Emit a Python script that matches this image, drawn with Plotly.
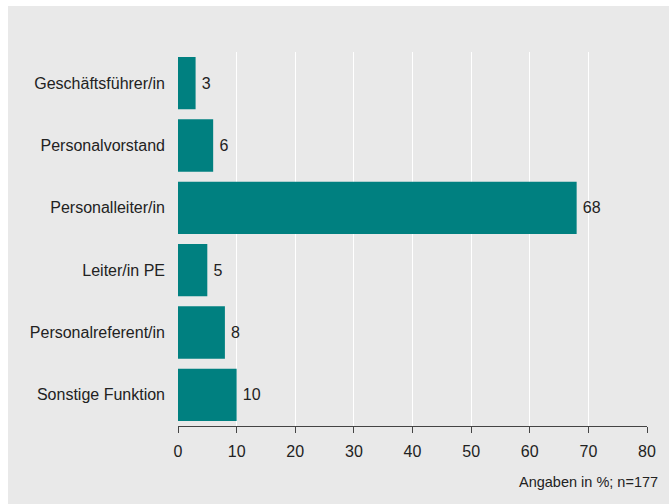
import plotly.graph_objects as go

# Funktion der Befragten (Angaben in %)
categories = [
    "Geschäftsführer/in",
    "Personalvorstand",
    "Personalleiter/in",
    "Leiter/in PE",
    "Personalreferent/in",
    "Sonstige Funktion",
]
values = [3, 6, 68, 5, 8, 10]
x_ticks = [0, 10, 20, 30, 40, 50, 60, 70, 80]

FONT = "Liberation Sans, Arial, Helvetica, sans-serif"
TEXT = "#222222"
BAR = "#008080"
PANEL = "#e9e9e9"

fig = go.Figure(
    go.Bar(
        x=values,
        y=categories,
        orientation="h",
        marker=dict(color=BAR, line=dict(width=0)),
        texttemplate="\u2009%{x}",
        textposition="outside",
        textfont=dict(size=16, color=TEXT, family=FONT),
        cliponaxis=False,
        width=0.84,
    )
)

W, H = 669, 504
L, R, T, B = 178, 22, 52, 78
pw, ph = W - L - R, H - T - B

# grey panel behind the chart, leaving a thin white border top/left
fig.add_shape(
    type="rect", xref="paper", yref="paper", layer="below",
    x0=(8 - L) / pw, x1=(W - L) / pw,
    y0=(H - B - H) / ph, y1=(H - B - 6) / ph,
    fillcolor=PANEL, line=dict(width=0),
)

fig.add_annotation(
    text="Angaben in %; n=177",
    xref="paper", yref="paper",
    x=(660 - L) / pw, y=(H - B - 482) / ph,
    xanchor="right", yanchor="middle",
    showarrow=False,
    font=dict(size=14.5, color=TEXT, family=FONT),
)

fig.update_layout(
    width=W, height=H,
    margin=dict(l=L, r=R, t=T, b=B, pad=0),
    paper_bgcolor="white",
    plot_bgcolor="rgba(0,0,0,0)",
    showlegend=False,
    font=dict(family=FONT, color=TEXT),
    bargap=0.16,
)

fig.update_xaxes(
    range=[0, 80],
    tickvals=x_ticks,
    ticktext=[str(t) for t in x_ticks],
    showgrid=True, gridcolor="white", gridwidth=1,
    zeroline=False,
    showline=True, linecolor="#444444", linewidth=1,
    ticks="outside", ticklen=6, tickcolor="#444444",
    ticklabelstandoff=5,
    tickfont=dict(size=16, color=TEXT, family=FONT),
    fixedrange=True,
)

fig.update_yaxes(
    categoryorder="array",
    categoryarray=categories[::-1],
    autorange=False,
    range=[-0.5, len(categories) - 0.5],
    showgrid=False, zeroline=False, showline=False,
    ticks="", ticklabelstandoff=12,
    tickfont=dict(size=16, color=TEXT, family=FONT),
    fixedrange=True,
)

fig.write_html("out.html")
